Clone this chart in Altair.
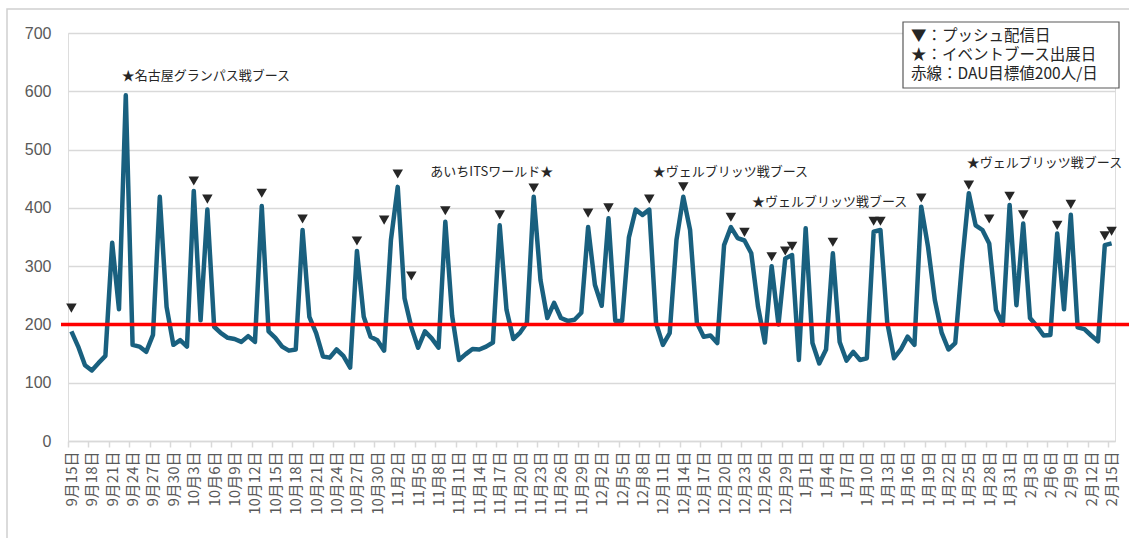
import json

import altair as alt
import pandas as pd

# Daily active users, one value per day from 9/15 to 2/15
dau = [
    188, 162, 130, 121, 134, 146, 340, 226, 593, 165,
    162, 153, 182, 419, 230, 165, 173, 162, 429, 207,
    397, 196, 185, 177, 175, 170, 180, 170, 403, 188,
    177, 162, 155, 157, 362, 213, 185, 145, 143, 157,
    146, 126, 326, 213, 179, 173, 155, 345, 436, 245,
    195, 160, 188, 176, 160, 376, 215, 139, 149, 158,
    157, 162, 169, 370, 225, 175, 186, 203, 419, 276,
    211, 237, 211, 206, 208, 220, 367, 268, 232, 382,
    206, 206, 349, 397, 388, 397, 202, 165, 185, 345,
    419, 362, 203, 179, 181, 168, 336, 367, 348, 344,
    322, 230, 169, 300, 200, 313, 319, 139, 365, 168,
    133, 157, 322, 170, 138, 153, 139, 142, 359, 362,
    203, 142, 157, 179, 165, 402, 333, 242, 186, 157,
    168, 305, 425, 370, 362, 339, 225, 200, 405, 233,
    373, 211, 197, 181, 182, 356, 226, 388, 195, 192,
    181, 171, 336, 339,
]

dates = pd.date_range("2023-09-15", periods=len(dau), freq="D")
day_labels = [f"{d.month}月{d.day}日" for d in dates]
label_days = list(range(0, len(dau), 3))

# Push-notification days (day index) and the height of their ▼ markers
push_days = [0, 18, 20, 28, 34, 42, 46, 48, 50, 55, 63, 68, 76, 79, 85, 90, 97,
             99, 103, 105, 106, 112, 118, 119, 125, 132, 135, 138, 140, 145,
             147, 152, 153]
push_levels = [228, 446, 415, 425, 381, 343, 379, 458, 283, 395, 388, 434, 391,
               400, 415, 436, 384, 358, 316, 326, 334, 341, 377, 377, 417, 439,
               381, 420, 388, 370, 406, 352, 360]

# Event booth notes
event_texts = ["★名古屋グランパス戦ブース", "あいちITSワールド★", "★ヴェルブリッツ戦ブース",
               "★ヴェルブリッツ戦ブース", "★ヴェルブリッツ戦ブース"]
event_days = [7.4, 52.8, 85.5, 100.1, 131.7]
event_levels = [626, 461, 461, 410, 477]

legend_lines = ["▼：プッシュ配信日", "★：イベントブース出展日", "赤線：DAU目標値200人/日"]
target = 200

W, H = 1047, 408
JP = "Noto Sans CJK JP"
TEXT = "#262626"
GRID = "#d9d9d9"

df = pd.DataFrame({"day": range(len(dau)), "dau": dau})
push_df = pd.DataFrame({"day": push_days, "level": push_levels})
event_df = pd.DataFrame({"day": event_days, "level": event_levels, "text": event_texts})
one = pd.DataFrame({"k": [0]})

x_scale = alt.Scale(domain=[-0.5, len(dau) - 0.5], nice=False, zero=False)
y_scale = alt.Scale(domain=[0, 700], nice=False)

label_expr = json.dumps(day_labels, ensure_ascii=False) + "[datum.value]"

x_axis = alt.Axis(
    values=label_days, labelExpr=label_expr, labelAngle=-90, labelAlign="right",
    labelBaseline="middle", labelOverlap=False, labelFlush=False, labelBound=False,
    tickOffset=-3.4, labelOffset=3.4, tickSize=6, tickColor=GRID, domainColor=GRID,
    domainWidth=1.5, tickWidth=1.5, grid=False, title=None, labelPadding=4,
    labelFont=JP, labelFontSize=15, labelColor="#595959",
)
y_axis = alt.Axis(
    values=list(range(0, 701, 100)), domain=False, ticks=False, grid=True,
    gridColor=GRID, gridWidth=1.5, title=None, labelPadding=17,
    labelFont="Liberation Sans", labelFontSize=16, labelColor="#595959",
)


def xq(field):
    return alt.X(field, type="quantitative", scale=x_scale, axis=x_axis)


def yq(field):
    return alt.Y(field, type="quantitative", scale=y_scale, axis=y_axis)


frame = alt.Chart(one).mark_rect(fill=None, stroke="#d0d0d0", strokeWidth=1.5).encode(
    x=alt.value(-61), x2=alt.value(W + 60), y=alt.value(-24), y2=alt.value(H + 110)
)

line = alt.Chart(df).mark_line(color="#19607f", strokeWidth=4.5, strokeJoin="round").encode(
    x=xq("day"), y=yq("dau")
)

goal = alt.Chart(one).mark_rule(color="#ff0000", strokeWidth=3.5).encode(
    y=alt.Y(datum=target, type="quantitative", scale=y_scale, axis=y_axis),
    x=alt.value(-7), x2=alt.value(W + 14),
)

markers = alt.Chart(push_df).mark_point(
    shape="triangle-down", filled=True, size=110, color=TEXT, opacity=1
).encode(x=xq("day"), y=yq("level"))

events = alt.Chart(event_df).mark_text(
    align="left", baseline="middle", font=JP, fontSize=13, color=TEXT
).encode(x=xq("day"), y=yq("level"), text="text:N")

legend_box = alt.Chart(one).mark_rect(fill="white", stroke="#595959", strokeWidth=1.2).encode(
    x=alt.value(835), x2=alt.value(1051), y=alt.value(-11), y2=alt.value(55)
)
legend_rows = [
    alt.Chart(pd.DataFrame({"text": [t]})).mark_text(
        align="left", baseline="middle", font=JP, fontSize=15.5, color=TEXT
    ).encode(x=alt.value(843), y=alt.value(3 + 19 * i), text="text:N")
    for i, t in enumerate(legend_lines)
]

chart = alt.layer(
    frame, line, goal, markers, events, legend_box, *legend_rows
).properties(
    width=W, height=H,
    autosize=alt.AutoSizeParams(type="none"),
    padding={"left": 68, "top": 33, "right": 14, "bottom": 97},
).configure_view(strokeWidth=0).configure(background="white")

chart.save("out.html", embed_options={"renderer": "svg", "actions": False})
